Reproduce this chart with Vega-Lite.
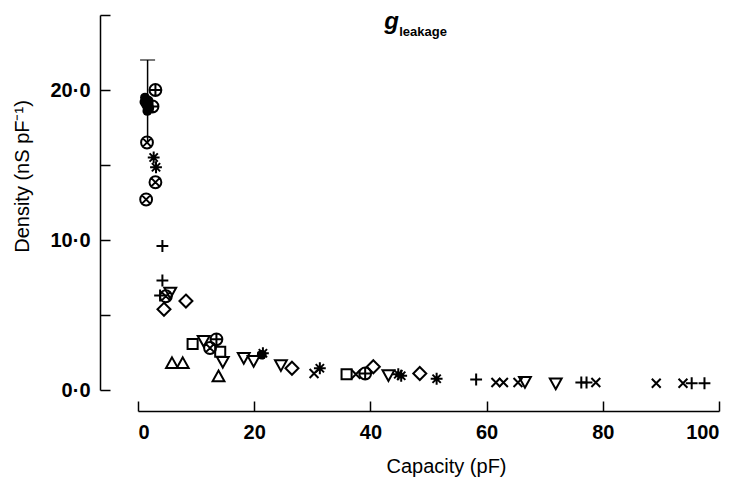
{
  "$schema": "https://vega.github.io/schema/vega-lite/v6.json",
  "autosize": "none",
  "padding": {"left": 138, "top": 15, "right": 16, "bottom": 94},
  "width": 581,
  "height": 375,
  "background": "white",
  "config": {"view": {"stroke": null}},
  "datasets": {
    "pts": [
      {"x": 1.2, "y": 19.5, "s": "dot"},
      {"x": 1.4, "y": 19.0, "s": "dot"},
      {"x": 1.8, "y": 19.3, "s": "dot"},
      {"x": 1.95, "y": 18.8, "s": "dot"},
      {"x": 1.1, "y": 19.2, "s": "dot"},
      {"x": 1.6, "y": 18.6, "s": "dot"},
      {"x": 21.3, "y": 2.35, "s": "dot"},
      {"x": 3.0, "y": 20.0, "s": "cplus"},
      {"x": 2.5, "y": 18.9, "s": "cplus"},
      {"x": 13.5, "y": 3.38, "s": "cplus"},
      {"x": 39.1, "y": 1.1, "s": "cplus"},
      {"x": 1.55, "y": 16.5, "s": "cx"},
      {"x": 3.0, "y": 13.85, "s": "cx"},
      {"x": 1.4, "y": 12.7, "s": "cx"},
      {"x": 4.8, "y": 6.25, "s": "cx"},
      {"x": 12.4, "y": 2.8, "s": "cx"},
      {"x": 2.7, "y": 15.5, "s": "ast"},
      {"x": 3.1, "y": 14.85, "s": "ast"},
      {"x": 21.5, "y": 2.45, "s": "ast"},
      {"x": 31.3, "y": 1.45, "s": "ast"},
      {"x": 44.8, "y": 1.05, "s": "ast"},
      {"x": 45.3, "y": 0.95, "s": "ast"},
      {"x": 51.4, "y": 0.75, "s": "ast"},
      {"x": 4.2, "y": 9.6, "s": "plus"},
      {"x": 4.2, "y": 7.3, "s": "plus"},
      {"x": 3.8, "y": 6.3, "s": "plus"},
      {"x": 58.2, "y": 0.7, "s": "plus"},
      {"x": 76.3, "y": 0.5, "s": "plus"},
      {"x": 77.2, "y": 0.5, "s": "plus"},
      {"x": 95.3, "y": 0.45, "s": "plus"},
      {"x": 97.5, "y": 0.45, "s": "plus"},
      {"x": 30.3, "y": 1.1, "s": "x"},
      {"x": 37.5, "y": 1.05, "s": "x"},
      {"x": 61.6, "y": 0.5, "s": "x"},
      {"x": 62.9, "y": 0.5, "s": "x"},
      {"x": 65.4, "y": 0.5, "s": "x"},
      {"x": 78.8, "y": 0.5, "s": "x"},
      {"x": 89.2, "y": 0.45, "s": "x"},
      {"x": 93.8, "y": 0.45, "s": "x"},
      {"x": 8.25, "y": 5.93, "s": "diamond"},
      {"x": 4.47, "y": 5.38, "s": "diamond"},
      {"x": 26.5, "y": 1.45, "s": "diamond"},
      {"x": 40.5, "y": 1.55, "s": "diamond"},
      {"x": 48.5, "y": 1.1, "s": "diamond"},
      {"x": 9.4, "y": 3.07, "s": "square"},
      {"x": 14.15, "y": 2.55, "s": "square"},
      {"x": 35.9, "y": 1.05, "s": "square"},
      {"x": 5.85, "y": 1.78, "s": "triup"},
      {"x": 7.7, "y": 1.78, "s": "triup"},
      {"x": 13.86, "y": 0.9, "s": "triup"},
      {"x": 5.55, "y": 6.5, "s": "tridown"},
      {"x": 11.3, "y": 3.29, "s": "tridown"},
      {"x": 14.6, "y": 1.89, "s": "tridown"},
      {"x": 18.2, "y": 2.15, "s": "tridown"},
      {"x": 19.9, "y": 1.95, "s": "tridown"},
      {"x": 24.6, "y": 1.67, "s": "tridown"},
      {"x": 43.1, "y": 1.0, "s": "tridown"},
      {"x": 66.6, "y": 0.55, "s": "tridown"},
      {"x": 71.9, "y": 0.45, "s": "tridown"}
    ],
    "err": [{"x": 1.65, "lo": 16.5, "hi": 22.0}]
  },
  "layer": [
    {
      "data": {"name": "err"},
      "mark": {"type": "rule", "color": "black", "strokeWidth": 1.5},
      "encoding": {
        "x": {"field": "x", "type": "quantitative", "scale": {"domain": [0, 100], "nice": false}},
        "y": {"field": "lo", "type": "quantitative", "scale": {"domain": [0, 25], "nice": false}},
        "y2": {"field": "hi"}
      }
    },
    {
      "data": {"name": "err"},
      "mark": {"type": "tick", "orient": "horizontal", "color": "black", "size": 15, "thickness": 1.5},
      "encoding": {
        "x": {"field": "x", "type": "quantitative"},
        "y": {"field": "hi", "type": "quantitative"}
      }
    },
    {
      "data": {"name": "pts"},
      "transform": [{"filter": "datum.s !== 'dot'"}],
      "mark": {"type": "point", "filled": false, "stroke": "black", "strokeWidth": 2, "size": 140, "opacity": 1},
      "encoding": {
        "x": {"field": "x", "type": "quantitative",
          "axis": {"values": [0, 20, 40, 60, 80, 100], "offset": 21, "domainColor": "black", "domainWidth": 1.5, "tickColor": "black", "tickWidth": 1.5, "tickSize": -10, "labelFont": "Liberation Sans", "labelFontWeight": "bold", "labelFontSize": 20, "labelColor": "black", "labelPadding": 21, "grid": false, "title": "Capacity (pF)", "titleFont": "Liberation Sans", "titleFontWeight": "normal", "titleFontSize": 20, "titleColor": "black", "titleX": 308, "titleAlign": "center", "titlePadding": 14}},
        "y": {"field": "y", "type": "quantitative",
          "axis": {"values": [0, 5, 10, 15, 20, 25], "offset": 38, "domainColor": "black", "domainWidth": 1.5, "tickColor": "black", "tickWidth": 1.5,
            "tickSize": -10,
            "labelExpr": "datum.value % 10 === 0 ? replace(format(datum.value, '.1f'), '.', '·') : ''",
            "labelFont": "Liberation Sans", "labelFontWeight": "bold", "labelFontSize": 20, "labelColor": "black", "labelPadding": 20, "grid": false,
            "title": "Density (nS pF⁻¹)", "titleFont": "Liberation Sans", "titleFontWeight": "normal", "titleFontSize": 20, "titleColor": "black",
            "titleX": -78, "titleY": 161, "titleAngle": -90, "titleAlign": "center", "titleBaseline": "middle"}},
        "shape": {"field": "s", "type": "nominal", "legend": null,
          "scale": {"domain": ["cplus", "cx", "ast", "plus", "x", "diamond", "square", "triup", "tridown"],
            "range": [
              "M-1,0A1,1,0,1,1,1,0A1,1,0,1,1,-1,0ZM-1,0L1,0M0,-1L0,1",
              "M-1,0A1,1,0,1,1,1,0A1,1,0,1,1,-1,0ZM-0.7,-0.7L0.7,0.7M-0.7,0.7L0.7,-0.7",
              "M-1,0L1,0M0,-1L0,1M-0.7,-0.7L0.7,0.7M-0.7,0.7L0.7,-0.7",
              "M-1,0L1,0M0,-1L0,1",
              "M-0.75,-0.75L0.75,0.75M-0.75,0.75L0.75,-0.75",
              "M0,-1.1L1.1,0L0,1.1L-1.1,0Z",
              "M-0.85,-0.85L0.85,-0.85L0.85,0.85L-0.85,0.85Z",
              "M0,-1L1,0.8L-1,0.8Z",
              "M0,1L1,-0.8L-1,-0.8Z"
            ]}}
      }
    },
    {
      "data": {"name": "pts"},
      "transform": [{"filter": "datum.s === 'dot'"}],
      "mark": {"type": "point", "shape": "circle", "filled": true, "color": "black", "size": 95, "opacity": 1},
      "encoding": {
        "x": {"field": "x", "type": "quantitative"},
        "y": {"field": "y", "type": "quantitative"}
      }
    },
    {
      "data": {"values": [{}]},
      "mark": {"type": "text", "text": "g", "font": "Liberation Sans", "fontStyle": "italic", "fontWeight": "bold", "fontSize": 24, "align": "right", "baseline": "alphabetic", "color": "black"},
      "encoding": {"x": {"datum": 44.9, "type": "quantitative"}, "y": {"datum": 24.1, "type": "quantitative"}}
    },
    {
      "data": {"values": [{}]},
      "mark": {"type": "text", "text": "leakage", "font": "Liberation Sans", "fontWeight": "bold", "fontSize": 13, "align": "left", "baseline": "alphabetic", "color": "black"},
      "encoding": {"x": {"datum": 44.95, "type": "quantitative"}, "y": {"datum": 23.6, "type": "quantitative"}}
    }
  ]
}
